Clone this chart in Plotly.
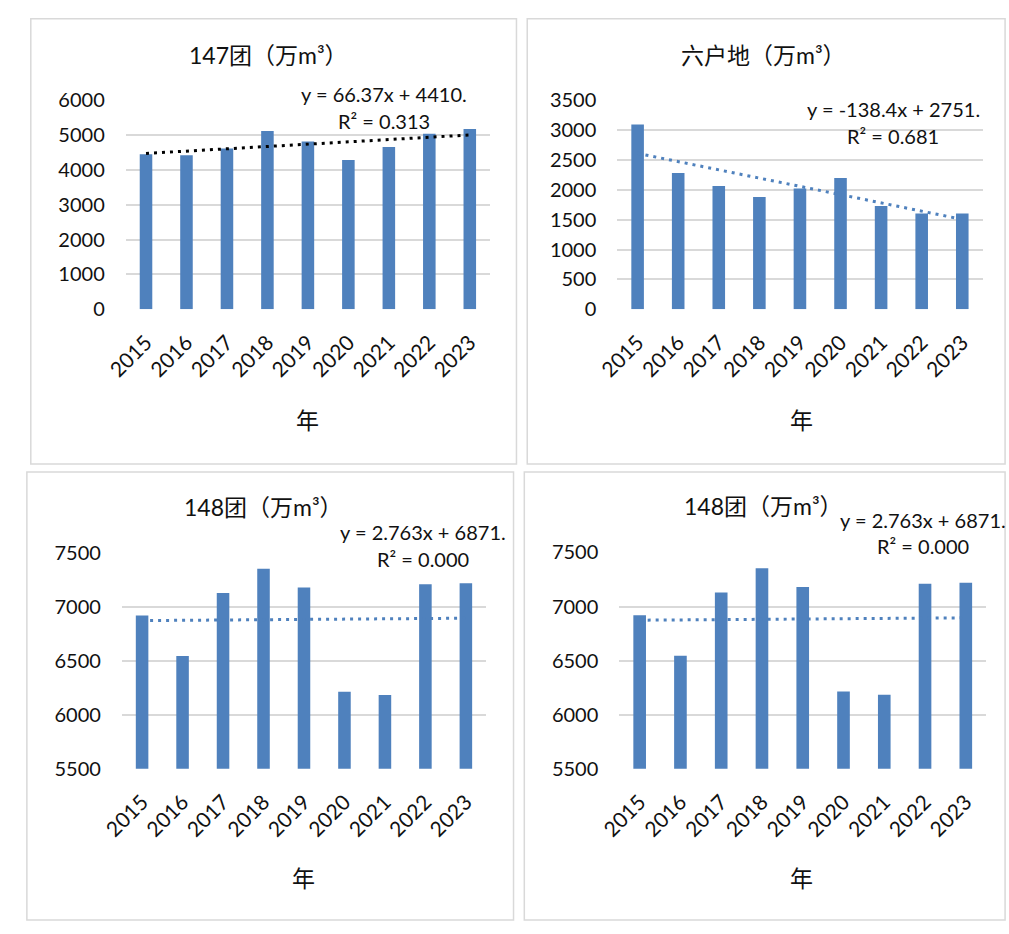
import plotly.graph_objects as go

W, H = 1009, 934

years = ["2015", "2016", "2017", "2018", "2019", "2020", "2021", "2022", "2023"]

vals_147 = [4450, 4425, 4620, 5120, 4820, 4290, 4660, 5040, 5180]
vals_lhd = [3095, 2285, 2065, 1880, 2025, 2200, 1730, 1605, 1605]
vals_148 = [6920, 6545, 7130, 7355, 7180, 6215, 6185, 7210, 7220]

titles = ["147团（万m³）", "六户地（万m³）", "148团（万m³）", "148团（万m³）"]
eq_lines = ["y = 66.37x + 4410.", "y = -138.4x + 2751.", "y = 2.763x + 6871.", "y = 2.763x + 6871."]
r2_lines = ["R² = 0.313", "R² = 0.681", "R² = 0.000", "R² = 0.000"]
trend_slope = [66.37, -138.4, 2.763, 2.763]
trend_intercept = [4410, 2751, 6871, 6871]
y_ranges = [[0, 6000], [0, 3500], [5500, 7500], [5500, 7500]]
y_dticks = [1000, 500, 500, 500]
x_title = "年"

series = [vals_147, vals_lhd, vals_148, vals_148]

# pixel layout: plot area (x0, x1, ytop, ybottom)
plot_px = [(107, 479, 89.7, 304), (609, 982, 89.7, 304), (103, 475, 554.3, 775.7), (611, 985.7, 553.7, 775.7)]
box_px = [(10, 506, 6, 463), (517, 1005, 6, 463), (6, 503, 471, 931), (514, 1005, 471, 931)]
title_px = [(253, 43), (758, 43), (248, 507), (758, 506)]
eq_px = [(371, 83, 111), (891, 99, 126), (411, 533, 560), (921, 520, 547)]
xt_px = [(293, 417), (797, 417), (289, 887), (797, 887)]
trend_colors = ["#000000", "#4f81bd", "#4f81bd", "#4f81bd"]

BAR = "#4f81bd"
GRID = "#d9d9d9"
FONT = "Lato, 'Noto Sans CJK SC', sans-serif"
CJK = "'Noto Sans CJK SC', Lato, sans-serif"

fig = go.Figure()
layout = dict(
    width=W, height=H, margin=dict(l=0, r=0, t=0, b=0),
    paper_bgcolor="white", plot_bgcolor="white", showlegend=False,
    bargap=0.69, shapes=[], annotations=[],
)

def px2x(p):
    return p / W

def px2y(p):
    return 1 - p / H

for i in range(4):
    n = "" if i == 0 else str(i + 1)
    xa, ya = "x" + n, "y" + n
    vals = series[i]
    fig.add_trace(go.Bar(x=years, y=vals, marker=dict(color=BAR, line=dict(width=0)),
                         xaxis=xa, yaxis=ya, width=0.31))
    ty = [trend_slope[i] * (k + 1) + trend_intercept[i] for k in range(len(years))]
    fig.add_trace(go.Scatter(x=years, y=ty, mode="lines", xaxis=xa, yaxis=ya,
                             line=dict(color=trend_colors[i], width=3, dash="3px,5px")))
    x0, x1, yt, yb = plot_px[i]
    layout["xaxis" + n] = dict(
        domain=[px2x(x0), px2x(x1)], anchor=ya, type="category",
        tickangle=-45, showgrid=False, showline=False, ticks="", zeroline=False,
        tickfont=dict(family=FONT, size=21, color="#111111"), ticklabelstandoff=16,
    )
    layout["yaxis" + n] = dict(
        domain=[px2y(yb), px2y(yt)], anchor=xa, range=y_ranges[i], dtick=y_dticks[i],
        showgrid=True, gridcolor=GRID, gridwidth=1.5, zeroline=False, showline=False, ticks="",
        tickfont=dict(family=FONT, size=20, color="#111111"), ticklabelstandoff=20,
    )
    bx0, bx1, by0, by1 = box_px[i]
    layout["shapes"].append(dict(type="rect", xref="paper", yref="paper",
                                 x0=px2x(bx0), x1=px2x(bx1), y0=px2y(by1), y1=px2y(by0),
                                 line=dict(color="#d9d9d9", width=1.5)))
    tx, tyy = title_px[i]
    layout["annotations"].append(dict(text=titles[i], x=px2x(tx), y=px2y(tyy), xref="paper", yref="paper",
                                      showarrow=False, xanchor="center", yanchor="middle",
                                      font=dict(family=FONT, size=23, color="#111111")))
    ex, ey1, ey2 = eq_px[i]
    layout["annotations"].append(dict(text=eq_lines[i], x=px2x(ex), y=px2y(ey1), xref="paper", yref="paper",
                                      showarrow=False, xanchor="center", yanchor="middle",
                                      font=dict(family=FONT, size=20, color="#111111")))
    layout["annotations"].append(dict(text=r2_lines[i], x=px2x(ex), y=px2y(ey2), xref="paper", yref="paper",
                                      showarrow=False, xanchor="center", yanchor="middle",
                                      font=dict(family=FONT, size=20, color="#111111")))
    xx, xy = xt_px[i]
    layout["annotations"].append(dict(text=x_title, x=px2x(xx), y=px2y(xy), xref="paper", yref="paper",
                                      showarrow=False, xanchor="center", yanchor="middle",
                                      font=dict(family=CJK, size=23, color="#111111")))

fig.update_layout(**layout)
fig.write_html("out.html")
